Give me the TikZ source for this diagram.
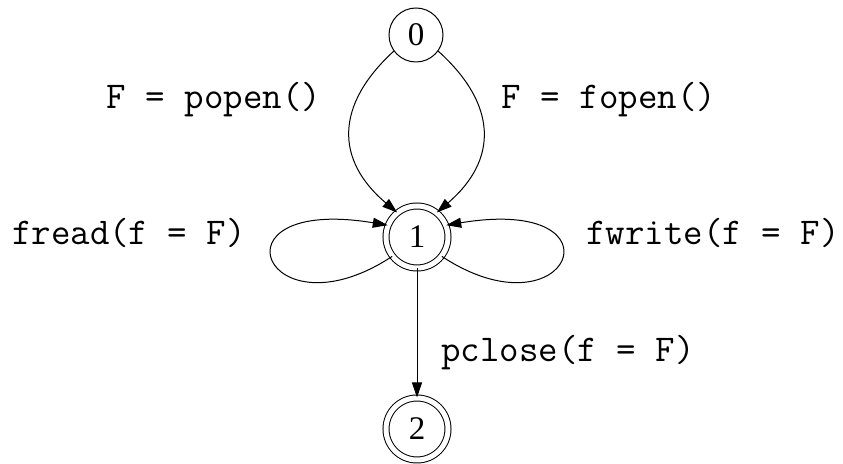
\documentclass[tikz,border=0pt]{standalone}
\usepackage{fontspec}
\setmainfont{Liberation Serif}
\usetikzlibrary{arrows.meta}

\begin{document}
\begin{tikzpicture}[x=.5pt,y=-.5pt,line width=.5pt,
    every node/.style={font=\fontsize{16.5}{20}\selectfont},
    state/.style={circle,draw,inner sep=0pt,minimum size=27pt},
    accept/.style={state,double,double distance=2.5pt,minimum size=31pt},
    lbl/.style={font=\ttfamily\fontsize{18.9}{22}\selectfont},
    >={Triangle[length=7.5pt,width=5pt]}]
  \useasboundingbox (0,0) rectangle (843,464);
  \node[state]  (n0) at (416,35) {0};
  \node[accept] (n1) at (417,237) {1};
  \node[accept] (n2) at (417,429) {2};
  \draw[->] (n0.216) .. controls (335,105) and (335,160) .. (n1.129);
  \draw[->] (n0.324) .. controls (498,105) and (498,160) .. (n1.51);
  \draw[->] (n1.218) .. controls (265,340) and (205,195) .. (n1.158);
  \draw[->] (n1.322) .. controls (569,340) and (629,195) .. (n1.22);
  \draw[->] (n1) -- (n2);
  \node[lbl] (popen) at (214,100) {F = popen()};
  \node[lbl] (fopen) at (609,100) {F = fopen()};
  \node[lbl] (fread) at (129,233) {fread(f = F)};
  \node[lbl] (fwrite) at (713,233) {fwrite(f = F)};
  \node[lbl] (pclose) at (568,353) {pclose(f = F)};
\end{tikzpicture}
\end{document}
